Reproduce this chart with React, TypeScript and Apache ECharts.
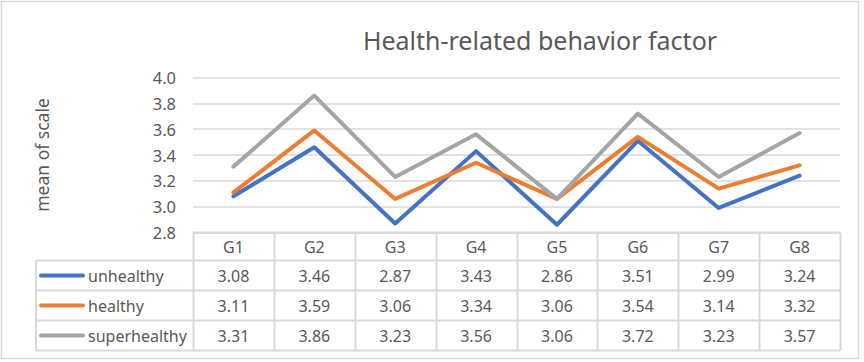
import React, { useEffect, useRef } from "react";
import * as echarts from "echarts";

const categories = ["G1", "G2", "G3", "G4", "G5", "G6", "G7", "G8"];
const seriesNames = ["unhealthy", "healthy", "superhealthy"];
const unhealthy = [3.08, 3.46, 2.87, 3.43, 2.86, 3.51, 2.99, 3.24];
const healthy = [3.11, 3.59, 3.06, 3.34, 3.06, 3.54, 3.14, 3.32];
const superhealthy = [3.31, 3.86, 3.23, 3.56, 3.06, 3.72, 3.23, 3.57];
const seriesColors = ["#4472C4", "#ED7D31", "#A5A5A5"];
const yMin = 2.8;
const yMax = 4.0;
const yInterval = 0.2;
const titleText = "Health-related behavior factor";
const yAxisName = "mean of scale";

const FONT = "'Noto Sans', 'Open Sans', sans-serif";
const TXT = "#595959";
const LINE = "#D9D9D9";

export default function App() {
  const ref = useRef<HTMLDivElement>(null);
  useEffect(() => {
    document.body.style.margin = "0";
    const chart = echarts.init(ref.current!, null, { renderer: "svg" });
    const W = 864;
    const gridLeft = 193;
    const gridRight = 840;
    const gridTop = 77.5;
    const gridBottom = 232.5;
    const colW = (gridRight - gridLeft) / categories.length;
    const legendLeft = 36;
    const rowLines = [260.5, 290.5, 320.5, 350.5];
    const allData = [unhealthy, healthy, superhealthy];

    const graphics: any[] = [];
    graphics.push({
      type: "rect",
      shape: { x: 1.5, y: 1.5, width: 857, height: 357 },
      style: { fill: "none", stroke: LINE, lineWidth: 1.5 },
      silent: true,
    });
    graphics.push({
      type: "line",
      shape: { x1: gridLeft, y1: gridBottom, x2: gridRight, y2: gridBottom },
      style: { stroke: LINE, lineWidth: 2 },
    });
    rowLines.forEach((y) =>
      graphics.push({
        type: "line",
        shape: { x1: legendLeft, y1: y, x2: gridRight, y2: y },
        style: { stroke: LINE, lineWidth: 2 },
      })
    );
    graphics.push({
      type: "line",
      shape: { x1: legendLeft, y1: rowLines[0], x2: legendLeft, y2: rowLines[3] },
      style: { stroke: LINE, lineWidth: 2 },
    });
    for (let i = 0; i <= categories.length; i++) {
      const x = Math.round(gridLeft + i * colW) + 0.5;
      graphics.push({
        type: "line",
        shape: { x1: x, y1: gridBottom, x2: x, y2: rowLines[3] },
        style: { stroke: LINE, lineWidth: 2 },
      });
    }
    seriesNames.forEach((name, r) => {
      const cy = (rowLines[r] + rowLines[r + 1]) / 2;
      graphics.push({
        type: "line",
        shape: { x1: 41, y1: cy, x2: 83, y2: cy },
        style: { stroke: seriesColors[r], lineWidth: 4, lineCap: "round" },
      });
      graphics.push({
        type: "text",
        x: 88,
        y: cy,
        style: {
          text: name,
          fill: TXT,
          font: `16px ${FONT}`,
          textAlign: "left",
          textVerticalAlign: "middle",
        },
      });
      allData[r].forEach((v, i) => {
        graphics.push({
          type: "text",
          x: gridLeft + (i + 0.5) * colW,
          y: cy,
          style: {
            text: v.toFixed(2),
            fill: TXT,
            font: `16px ${FONT}`,
            textAlign: "center",
            textVerticalAlign: "middle",
          },
        });
      });
    });
    graphics.push({
      type: "text",
      x: 42,
      y: 155,
      rotation: Math.PI / 2,
      style: {
        text: yAxisName,
        fill: TXT,
        font: `17.5px ${FONT}`,
        textAlign: "center",
        textVerticalAlign: "middle",
      },
    });

    chart.setOption({
      animation: false,
      backgroundColor: "#fff",
      title: {
        text: titleText,
        left: 535,
        top: 22,
        textAlign: "center",
        textStyle: { color: TXT, fontSize: 25, fontWeight: "normal", fontFamily: FONT },
      },
      grid: {
        left: gridLeft,
        right: W - gridRight,
        top: gridTop,
        height: gridBottom - gridTop,
      },
      xAxis: {
        type: "category",
        data: categories,
        boundaryGap: true,
        axisLine: { show: false },
        axisTick: { show: false },
        axisLabel: {
          color: TXT,
          fontSize: 16,
          fontFamily: FONT,
          margin: 14,
          verticalAlign: "middle",
        },
      },
      yAxis: {
        type: "value",
        min: yMin,
        max: yMax,
        interval: yInterval,
        axisLine: { show: false },
        axisTick: { show: false },
        axisLabel: {
          color: TXT,
          fontSize: 16.5,
          fontFamily: FONT,
          margin: 17,
          formatter: (v: number) => v.toFixed(1),
        },
        splitLine: { lineStyle: { color: LINE, width: 1.5 } },
      },
      series: seriesNames.map((name, r) => ({
        name,
        type: "line",
        data: allData[r],
        symbol: "none",
        lineStyle: { color: seriesColors[r], width: 4, cap: "round", join: "round" },
        itemStyle: { color: seriesColors[r] },
      })),
      graphic: graphics,
    });
    return () => chart.dispose();
  }, []);
  return <div ref={ref} style={{ width: 864, height: 362 }} />;
}
